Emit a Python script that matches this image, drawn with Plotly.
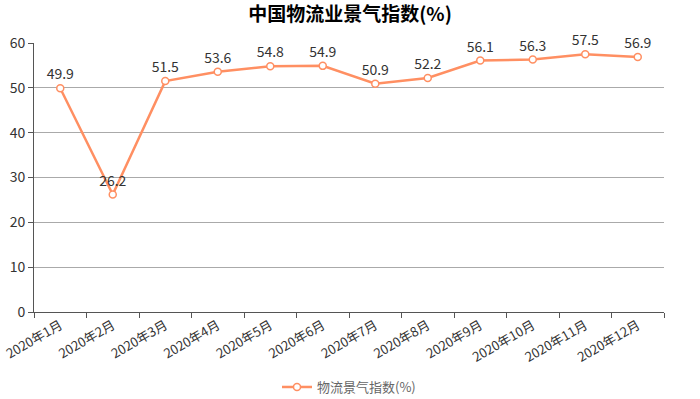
import plotly.graph_objects as go

months = ["2020年1月", "2020年2月", "2020年3月", "2020年4月", "2020年5月", "2020年6月",
          "2020年7月", "2020年8月", "2020年9月", "2020年10月", "2020年11月", "2020年12月"]
values = [49.9, 26.2, 51.5, 53.6, 54.8, 54.9, 50.9, 52.2, 56.1, 56.3, 57.5, 56.9]
series_name = "物流景气指数(%)"
title_text = "中国物流业景气指数(%)"

FONT = "Noto Sans CJK SC, Noto Sans, sans-serif"
LINE = "#FF8F62"

fig = go.Figure()
fig.add_trace(go.Scatter(
    x=months, y=values, name=series_name,
    mode="lines+markers+text",
    text=[f"{v:.1f}" for v in values],
    textposition="top center",
    textfont=dict(size=14, color="#333333", family=FONT),
    line=dict(color=LINE, width=2.5),
    marker=dict(symbol="circle", size=7, color="white", line=dict(color=LINE, width=1.5)),
    cliponaxis=False,
))

fig.update_layout(
    width=700, height=399,
    margin=dict(l=34, r=36, t=43, b=87, autoexpand=False),
    paper_bgcolor="white", plot_bgcolor="white",
    font=dict(family=FONT, size=13, color="#333333"),
    title=dict(text=f"<b>{title_text}</b>", x=0.5, xanchor="center",
               yref="container", y=0.963, yanchor="middle",
               font=dict(size=19, color="#000000", family=FONT)),
    showlegend=True,
    legend=dict(orientation="h", x=0.5, xanchor="center", yref="container", y=0.03, yanchor="middle",
                font=dict(size=13, color="#666666", family=FONT)),
    xaxis=dict(
        type="category", tickangle=-30, showgrid=False, automargin=False,
        showline=True, linecolor="#555555", linewidth=1,
        ticks="outside", tickson="boundaries", ticklen=5, tickcolor="#555555",
        tickfont=dict(size=13, color="#333333"),
        range=[-0.5, len(months) - 0.5],
    ),
    yaxis=dict(
        range=[0, 60], dtick=10, showgrid=True, gridcolor="#AAAAAA", gridwidth=1.2,
        showline=True, linecolor="#555555", linewidth=1, automargin=False,
        ticks="outside", ticklen=5, tickcolor="#555555",
        tickfont=dict(size=14, color="#333333"), zeroline=False,
    ),
)

fig.write_html("out.html", config={"displayModeBar": False},
               post_script="document.body.style.margin='0';")
